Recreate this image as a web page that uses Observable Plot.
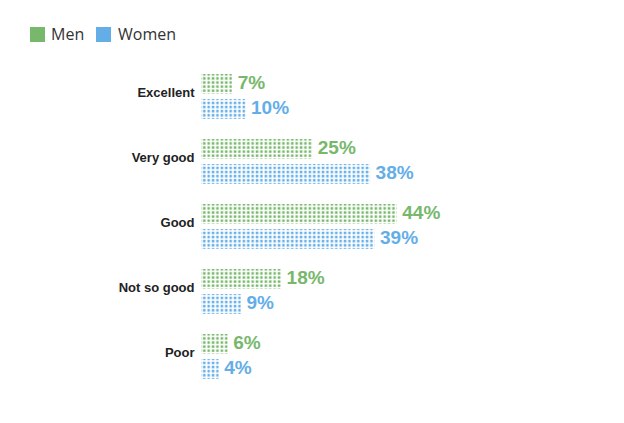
<!DOCTYPE html>
<html>
<head>
<meta charset="utf-8">
<script src="https://cdn.jsdelivr.net/npm/d3@7"></script>
<script src="https://cdn.jsdelivr.net/npm/@observablehq/plot@0.6"></script>
<style>
  html, body { margin: 0; padding: 0; background: #fff; }
  #legend { position: relative; height: 56px; width: 624px; font-family: "Open Sans", sans-serif; font-size: 16px; color: #333; }
  .sw { position: absolute; top: 27px; width: 15px; height: 15px; }
  .lb { position: absolute; top: 23px; line-height: 22px; }
  #chart svg { display: block; }
</style>
</head>
<body>
<div id="legend"></div>
<div id="chart"></div>
<script>
const categories = ["Excellent", "Very good", "Good", "Not so good", "Poor"];
const menValues = [7, 25, 44, 18, 6];
const womenValues = [10, 38, 39, 9, 4];
const sexes = ["Men", "Women"];
const sexColors = ["#77b86c", "#64aee8"];

const data = categories.flatMap((c, i) => [
  {category: c, sex: "Men", value: menValues[i]},
  {category: c, sex: "Women", value: womenValues[i]}
]);

// legend
const legend = document.getElementById("legend");
const legendPos = [[30, 51], [96, 118]];
sexes.forEach((s, i) => {
  const sw = document.createElement("div");
  sw.className = "sw"; sw.style.left = legendPos[i][0] + "px"; sw.style.background = sexColors[i];
  const lb = document.createElement("div");
  lb.className = "lb"; lb.style.left = legendPos[i][1] + "px"; lb.textContent = s;
  legend.append(sw, lb);
});

const marks = [
  Plot.axisFy({anchor: "left", tickSize: 0, tickPadding: 7, dy: -4, label: null})
];
sexes.forEach((s, i) => {
  const sub = data.filter(d => d.sex === s);
  marks.push(Plot.barX(sub, {x: "value", y: "sex", fy: "category", fill: `url(#dots${i})`}));
  marks.push(Plot.text(sub, {
    x: "value", y: "sex", fy: "category", text: d => d.value + "%",
    textAnchor: "start", dx: 5, dy: -2, fill: sexColors[i],
    fontSize: 19, fontWeight: "bold", fontFamily: "Liberation Sans, Arial, sans-serif"
  }));
});

const svg = Plot.plot({
  width: 624,
  height: 367,
  marginLeft: 201,
  marginRight: 22.5,
  marginTop: 8,
  marginBottom: 34,
  x: {domain: [0, 90], axis: null},
  y: {domain: sexes, axis: null, paddingInner: 0.2, paddingOuter: 0.4},
  fy: {domain: categories, padding: 0},
  style: {fontFamily: "Liberation Sans, Arial, sans-serif", fontSize: "13px", fontWeight: "bold", color: "#222"},
  marks
});

// dot patterns
const ns = "http://www.w3.org/2000/svg";
const defs = document.createElementNS(ns, "defs");
sexColors.forEach((col, i) => {
  const p = document.createElementNS(ns, "pattern");
  p.setAttribute("id", `dots${i}`);
  p.setAttribute("patternUnits", "userSpaceOnUse");
  p.setAttribute("width", "4.4");
  p.setAttribute("height", "4.1");
  const r = document.createElementNS(ns, "rect");
  r.setAttribute("x", "0.6"); r.setAttribute("y", "0.6");
  r.setAttribute("width", "2.5"); r.setAttribute("height", "2.5");
  r.setAttribute("fill", col);
  p.appendChild(r);
  defs.appendChild(p);
});
svg.insertBefore(defs, svg.firstChild);
document.getElementById("chart").appendChild(svg);
</script>
</body>
</html>
